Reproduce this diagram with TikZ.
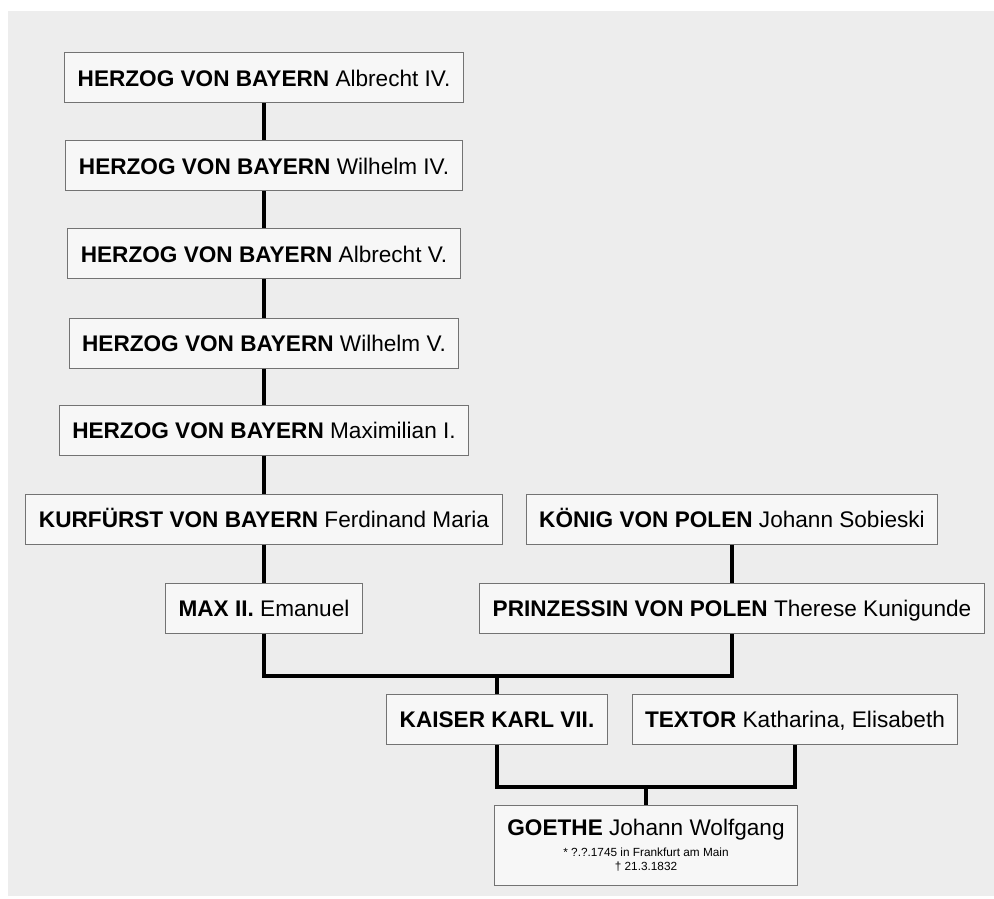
\documentclass[tikz,border=0pt]{standalone}
\usepackage{fontspec}
\setmainfont{Liberation Sans}
\usepackage{tikz}

\begin{document}
\begin{tikzpicture}[x=0.5pt,y=-0.5pt]
		\tikzstyle{name-box}=[draw=black!55,fill=black!3,line width=0.5pt,minimum height=25pt,inner xsep=6.5pt,text height=8.2pt,text depth=0.1pt,font=\fontsize{11.3}{13.5}\selectfont]
		\tikzstyle{line}=[black,line width=1.6pt]
		% paper
		\useasboundingbox (0,0) rectangle (994,898);
		\fill [black!7] (8,11) rectangle (994,896);
		% herzoege
		\node [name-box] at (264,78) (a1) {\textbf{HERZOG VON BAYERN} Albrecht IV.};
		\node [name-box] at (264,166) (a2) {\textbf{HERZOG VON BAYERN} Wilhelm IV.};
		\node [name-box] at (264,254) (a3) {\textbf{HERZOG VON BAYERN} Albrecht V.};
		\node [name-box] at (264,343) (a4) {\textbf{HERZOG VON BAYERN} Wilhelm V.};
		\node [name-box] at (264,430) (a5) {\textbf{HERZOG VON BAYERN} Maximilian I.};
		\node [name-box] at (264,519) (kurf) {\textbf{KURF\"URST VON BAYERN} Ferdinand Maria};
		\node [name-box] at (264,608) (max) {\textbf{MAX II.} Emanuel};
		% polen
		\node [name-box] at (732,519) (koenig) {\textbf{K\"ONIG VON POLEN} Johann Sobieski};
		\node [name-box] at (732,608) (prinz) {\textbf{PRINZESSIN VON POLEN} Therese Kunigunde};
		% eltern
		\node [name-box] at (497,719.5) (karl) {\textbf{KAISER KARL VII.}};
		\node [name-box] at (795,719.5) (textor) {\textbf{TEXTOR} Katharina, Elisabeth};
		% goethe
		\node [name-box,align=center,minimum height=40pt,text height=,text depth=] at (646,845.5) (goethe) {\textbf{GOETHE} Johann Wolfgang\\[-3pt]
			\fontsize{5.9}{6.5}\selectfont * ?.?.1745 in Frankfurt am Main\\[-6.5pt]
			\fontsize{5.9}{6.5}\selectfont † 21.3.1832};
		% lines
		\coordinate (m1) at (497,676);
		\coordinate (m2) at (646,787);
		\draw [line] (a1) -- (a2);
		\draw [line] (a2) -- (a3);
		\draw [line] (a3) -- (a4);
		\draw [line] (a4) -- (a5);
		\draw [line] (a5) -- (kurf);
		\draw [line] (kurf) -- (max);
		\draw [line] (koenig) -- (prinz);
		\draw [line] (max.south) |- (m1) -| (prinz.south);
		\draw [line] (m1) -- (karl);
		\draw [line] (karl.south) |- (m2) -| (textor.south);
		\draw [line] (m2) -- (goethe);
	\end{tikzpicture}
\end{document}
